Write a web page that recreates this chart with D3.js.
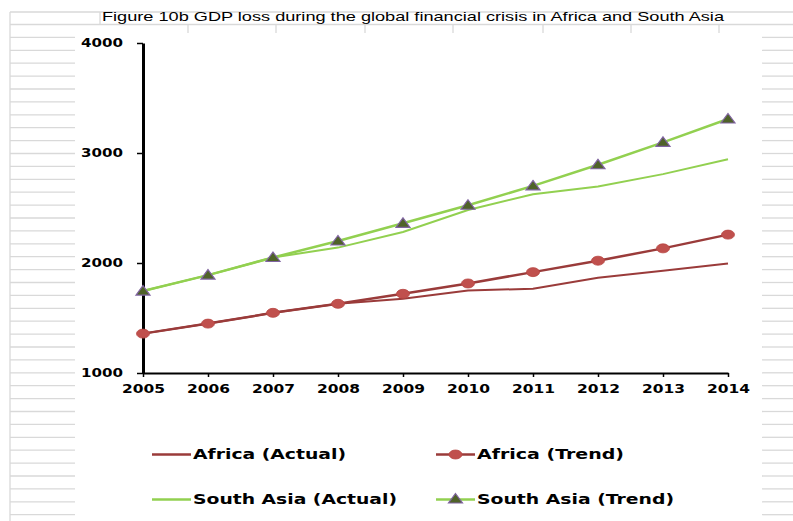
<!DOCTYPE html>
<html>
<head>
<meta charset="utf-8">
<script src="https://cdn.jsdelivr.net/npm/d3@7"></script>
<style>
  html, body { margin: 0; padding: 0; background: #fff; }
  svg { display: block; }
</style>
</head>
<body>
<svg id="chart" width="793" height="521"></svg>
<script>
// ---- data ----
const years = [2005, 2006, 2007, 2008, 2009, 2010, 2011, 2012, 2013, 2014];
const africaActual    = [1358, 1449, 1547, 1629, 1675, 1750, 1766, 1866, 1930, 1996];
const africaTrend     = [1358, 1449, 1547, 1629, 1720, 1814, 1917, 2021, 2133, 2258];
const southAsiaActual = [1745, 1890, 2050, 2140, 2282, 2482, 2625, 2696, 2808, 2944];
const southAsiaTrend  = [1745, 1890, 2050, 2200, 2361, 2525, 2701, 2893, 3097, 3309];
const yTicks = [1000, 2000, 3000, 4000];
const title = "Figure 10b GDP loss during the global financial crisis in Africa and South Asia";
const legendLabels = ["Africa (Actual)", "Africa (Trend)", "South Asia (Actual)", "South Asia (Trend)"];

const svg = d3.select("#chart");

// ---- spreadsheet background ----
const grid = svg.append("g").attr("stroke", "#d9d9d9").attr("stroke-width", 1.3);
grid.append("line").attr("x1", 10).attr("x2", 793).attr("y1", 12).attr("y2", 12);
grid.append("line").attr("x1", 10).attr("x2", 793).attr("y1", 24.5).attr("y2", 24.5);
grid.append("line").attr("x1", 10).attr("x2", 10).attr("y1", 12).attr("y2", 521);
grid.append("line").attr("x1", 100).attr("x2", 100).attr("y1", 12).attr("y2", 24.5);
[188, 276, 365, 453, 543, 631, 719].forEach(x => {
  grid.append("line").attr("x1", x).attr("x2", x).attr("y1", 24.5).attr("y2", 33);
});
for (let k = 1; k < 40; k++) {
  const y = 24.5 + k * 12.9;
  if (y > 521) break;
  grid.append("line").attr("x1", 10).attr("x2", 75).attr("y1", y).attr("y2", y);
  grid.append("line").attr("x1", 762).attr("x2", 793).attr("y1", y).attr("y2", y);
}

// ---- title ----
svg.append("text")
  .attr("x", 102).attr("y", 21)
  .attr("font-family", "Liberation Sans, Arial, sans-serif")
  .attr("font-size", 13)
  .attr("textLength", 622).attr("lengthAdjust", "spacingAndGlyphs")
  .attr("fill", "#000")
  .text(title);

// ---- scales ----
const x = d3.scaleLinear().domain([2005, 2014]).range([143, 728]);
const y = d3.scaleLinear().domain([1000, 4000]).range([373, 43]);

// ---- axes ----
const yAxis = svg.append("g").attr("transform", "translate(143,0)")
  .call(d3.axisLeft(y).tickValues(yTicks).tickSize(6).tickFormat(d3.format("d")).tickSizeOuter(0));
yAxis.select(".domain").attr("stroke", "#000").attr("stroke-width", 3);
yAxis.selectAll(".tick line").attr("stroke", "#000").attr("stroke-width", 1.5);
yAxis.selectAll(".tick text")
  .attr("x", -20)
  .attr("font-family", "DejaVu Sans, Verdana, sans-serif")
  .attr("font-weight", "bold").attr("font-size", 12)
  .attr("textLength", 42).attr("lengthAdjust", "spacingAndGlyphs")
  .attr("fill", "#000");

const xAxis = svg.append("g").attr("transform", "translate(0,373)")
  .call(d3.axisBottom(x).tickValues(years).tickSize(4).tickFormat(d3.format("d")).tickSizeOuter(0));
xAxis.select(".domain").attr("stroke", "#000").attr("stroke-width", 2.2);
xAxis.selectAll(".tick line").attr("stroke", "#000").attr("stroke-width", 1.5);
xAxis.selectAll(".tick text")
  .attr("y", 11)
  .attr("font-family", "DejaVu Sans, Verdana, sans-serif")
  .attr("font-weight", "bold").attr("font-size", 12)
  .attr("textLength", 43).attr("lengthAdjust", "spacingAndGlyphs")
  .attr("fill", "#000");

// ---- lines ----
const colAfrica = "#9a3b3a";
const colAfricaMarker = "#c0504d";
const colSA = "#92d050";
const triFill = "#4f6228";
const triStroke = "#8064a2";

const line = d3.line().x((d, i) => x(years[i])).y(d => y(d));

svg.append("path").datum(southAsiaActual).attr("d", line)
  .attr("fill", "none").attr("stroke", colSA).attr("stroke-width", 2);
svg.append("path").datum(southAsiaTrend).attr("d", line)
  .attr("fill", "none").attr("stroke", colSA).attr("stroke-width", 2.5);
svg.append("path").datum(africaActual).attr("d", line)
  .attr("fill", "none").attr("stroke", colAfrica).attr("stroke-width", 2);
svg.append("path").datum(africaTrend).attr("d", line)
  .attr("fill", "none").attr("stroke", colAfrica).attr("stroke-width", 2.5);

const triPath = "M0,-5.5L7,4L-7,4Z";
svg.append("g").selectAll("path").data(southAsiaTrend).join("path")
  .attr("d", triPath)
  .attr("transform", (d, i) => `translate(${x(years[i])},${y(d)})`)
  .attr("fill", triFill).attr("stroke", triStroke).attr("stroke-width", 1.2);

svg.append("g").selectAll("ellipse").data(africaTrend).join("ellipse")
  .attr("cx", (d, i) => x(years[i])).attr("cy", d => y(d))
  .attr("rx", 6.5).attr("ry", 4.5)
  .attr("fill", colAfricaMarker).attr("stroke", "#b84643").attr("stroke-width", 0.8);

// ---- legend ----
const legend = [
  { label: legendLabels[0], x0: 152, y0: 454.5, color: colAfrica, marker: null, tl: 153 },
  { label: legendLabels[1], x0: 436, y0: 454.5, color: colAfrica, marker: "circle", tl: 147 },
  { label: legendLabels[2], x0: 152, y0: 499.5, color: colSA, marker: null, tl: 204 },
  { label: legendLabels[3], x0: 436, y0: 499.5, color: colSA, marker: "tri", tl: 197 }
];
const lg = svg.append("g");
legend.forEach(d => {
  lg.append("line").attr("x1", d.x0).attr("x2", d.x0 + 39).attr("y1", d.y0).attr("y2", d.y0)
    .attr("stroke", d.color).attr("stroke-width", 2.5);
  if (d.marker === "circle") {
    lg.append("ellipse").attr("cx", d.x0 + 19.5).attr("cy", d.y0).attr("rx", 6.5).attr("ry", 4.5)
      .attr("fill", colAfricaMarker).attr("stroke", "#b84643").attr("stroke-width", 0.8);
  } else if (d.marker === "tri") {
    lg.append("path").attr("d", triPath)
      .attr("transform", `translate(${d.x0 + 19.5},${d.y0 - 0.5})`)
      .attr("fill", triFill).attr("stroke", triStroke).attr("stroke-width", 1.2);
  }
  lg.append("text").attr("x", d.x0 + 41).attr("y", d.y0 + 4.5)
    .attr("font-family", "DejaVu Sans, Verdana, sans-serif")
    .attr("font-weight", "bold").attr("font-size", 14)
    .attr("textLength", d.tl).attr("lengthAdjust", "spacingAndGlyphs")
    .attr("fill", "#000")
    .text(d.label);
});
</script>
</body>
</html>
